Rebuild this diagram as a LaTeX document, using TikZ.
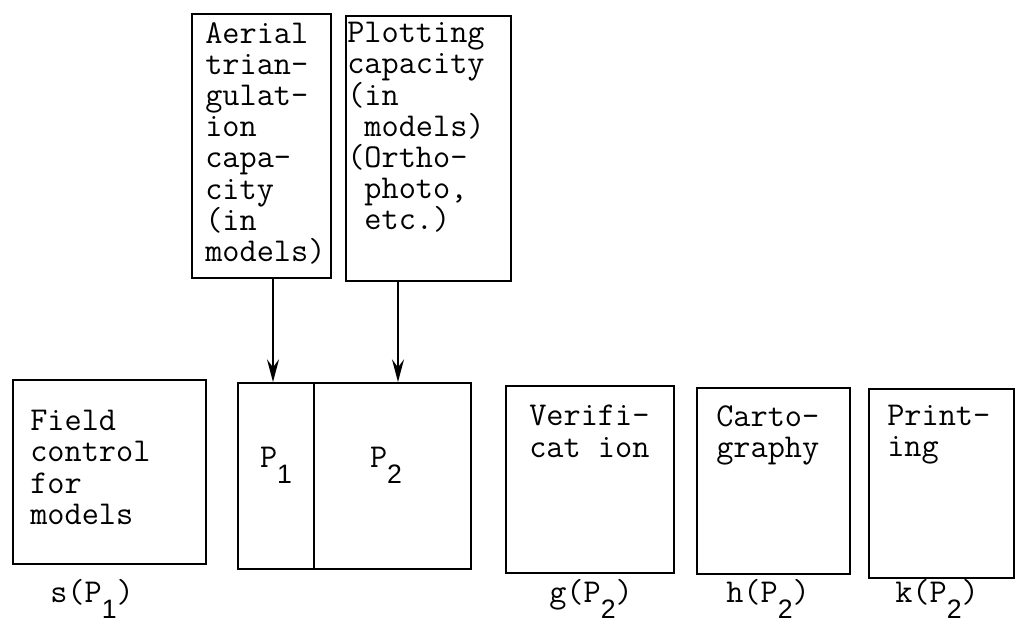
\documentclass[tikz,border=0pt]{standalone}
\usepackage{fontspec}
\newfontfamily\subfont{Liberation Sans}
\usetikzlibrary{arrows.meta}
\newcommand{\idx}[1]{\raisebox{-12pt}{\subfont\fontsize{20}{20}\selectfont #1}}
\begin{document}
\begin{tikzpicture}[x=0.75pt,y=-0.75pt,
  box/.style={draw, line width=1.5pt, inner sep=0pt, anchor=north west},
  txt/.style={anchor=north west, align=left, inner sep=0pt, font=\ttfamily\fontsize{25}{23.4}\selectfont},
  lbl/.style={anchor=base, inner sep=0pt, font=\ttfamily\fontsize{25}{23.4}\selectfont},
  arr/.style={line width=1.5pt, -{Stealth[length=17pt,width=9pt,inset=6pt]}}]
\useasboundingbox (0,0) rectangle (1036,629);
% boxes
\node[box, minimum width=139*0.75pt, minimum height=264*0.75pt] (A) at (191,13) {};
\node[box, minimum width=165*0.75pt, minimum height=265*0.75pt] (B) at (345,15) {};
\node[box, minimum width=193*0.75pt, minimum height=184*0.75pt] (F) at (12,379) {};
\node[box, minimum width=76*0.75pt, minimum height=186*0.75pt] (P1) at (237,382) {};
\node[box, minimum width=157*0.75pt, minimum height=186*0.75pt] (P2) at (313,382) {};
\node[box, minimum width=168*0.75pt, minimum height=187*0.75pt] (V) at (505,385) {};
\node[box, minimum width=153*0.75pt, minimum height=186*0.75pt] (C) at (696,387) {};
\node[box, minimum width=145*0.75pt, minimum height=189*0.75pt] (K) at (868,388) {};
% texts
\node[txt] (At) at (205,22) {Aerial\\trian-\\gulat-\\ion\\capa-\\city\\(in\\models)};
\node[txt] (Bt) at (347,22) {Plotting\\capacity\\(in\\\phantom{x}models)\\(Ortho-\\\phantom{x}photo,\\\phantom{x}etc.)};
\node[txt] (Ft) at (30,410) {Field\\control\\for\\models};
\node[txt] (Vt) at (529,405) {Verifi-\\cat ion};
\node[txt] (Ct) at (716,405) {Carto-\\graphy};
\node[txt] (Kt) at (887,405) {Print-\\ing};
\node[lbl] (P1t) at (276,467) {P\idx{1}};
\node[lbl] (P2t) at (386,467) {P\idx{2}};
% bottom labels
\node[lbl] (sl) at (92,602) {s(P\idx{1})};
\node[lbl] (gl) at (591,602) {g(P\idx{2})};
\node[lbl] (hl) at (768,602) {h(P\idx{2})};
\node[lbl] (kl) at (937,602) {k(P\idx{2})};
% arrows
\coordinate (a1) at (273,0);
\coordinate (a2) at (398,0);
\draw[arr] (a1 |- A.south) -- (a1 |- P1.north);
\draw[arr] (a2 |- B.south) -- (a2 |- P2.north);
\end{tikzpicture}
\end{document}
